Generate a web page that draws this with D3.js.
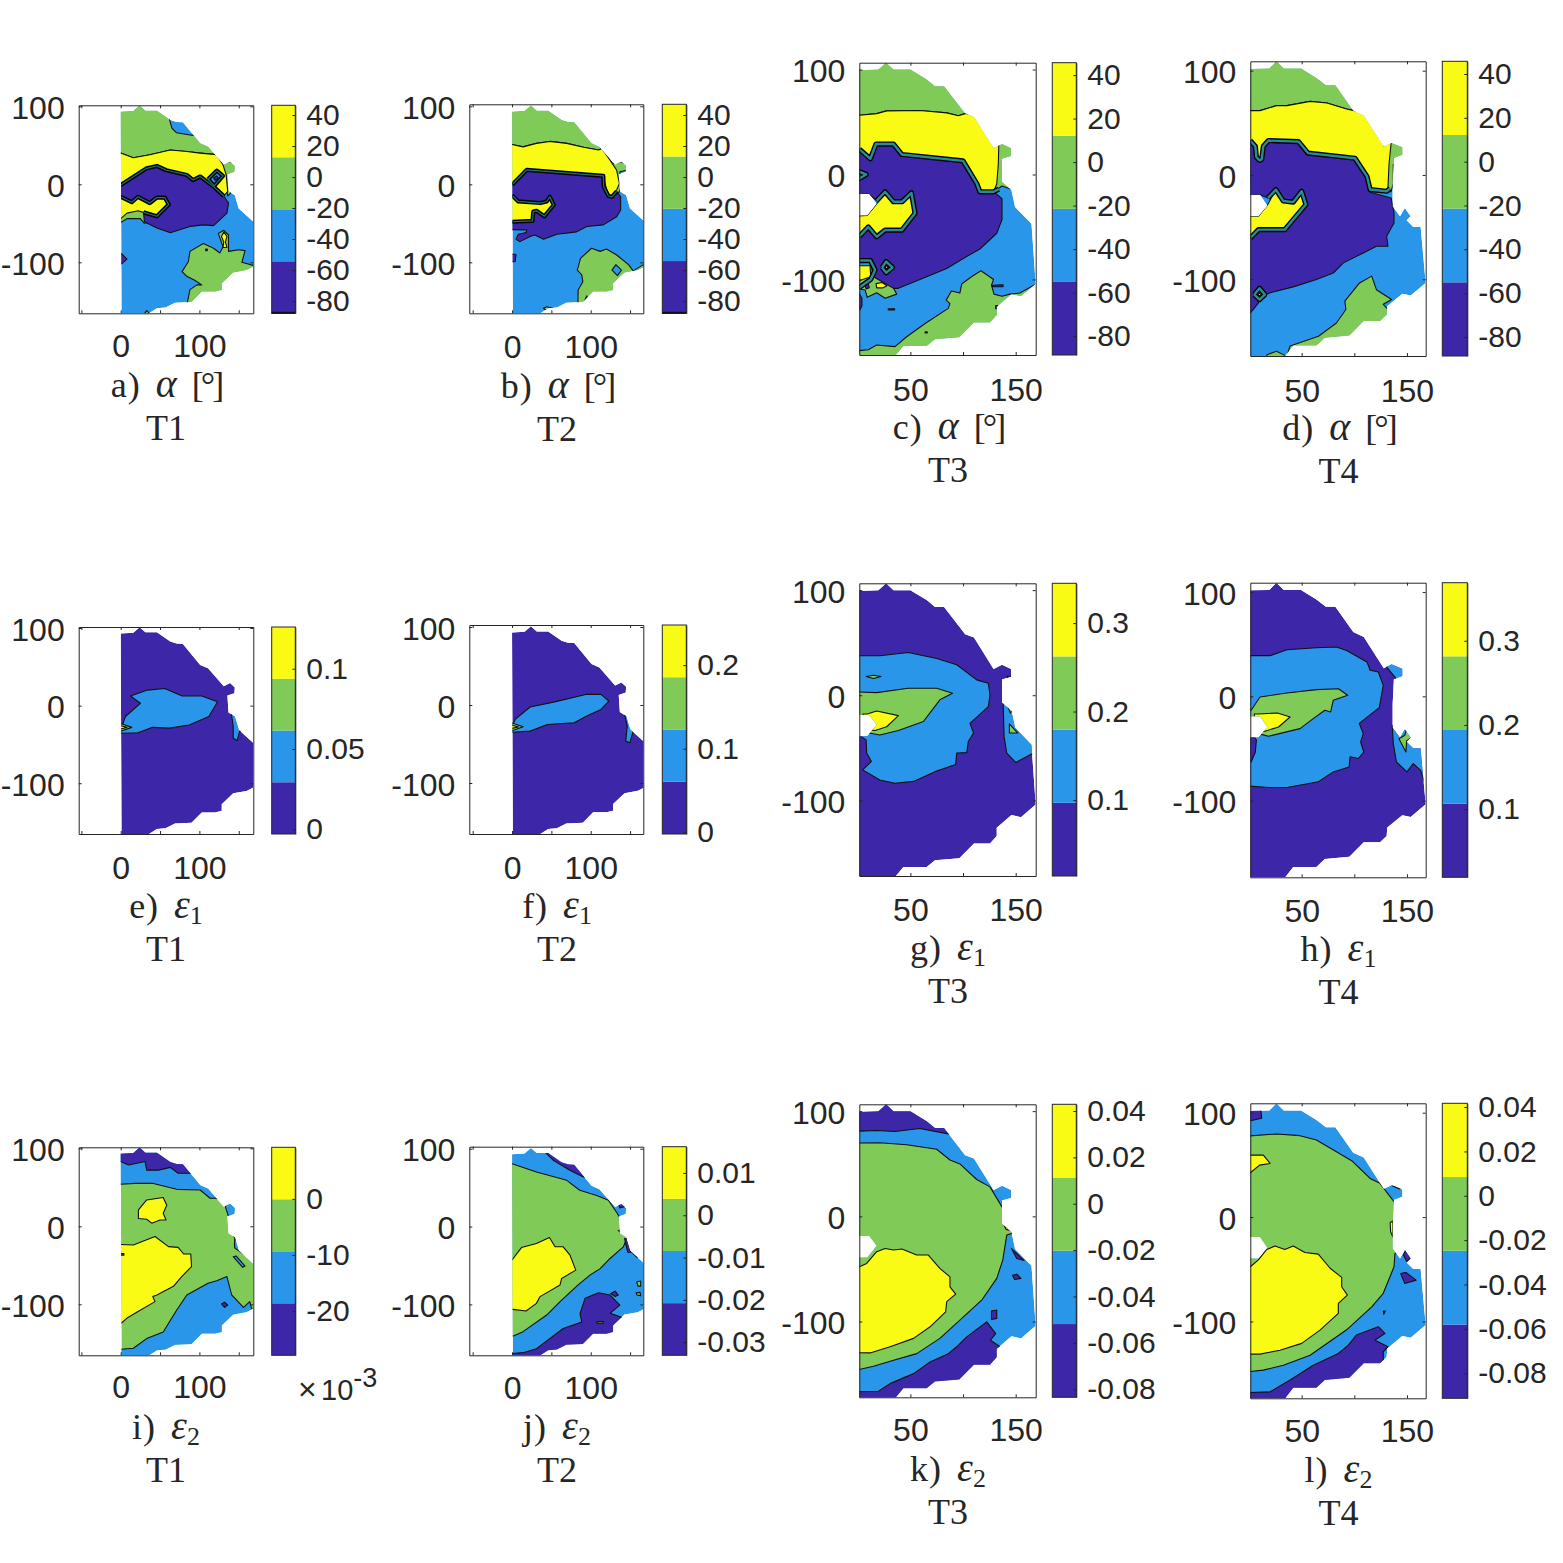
<!DOCTYPE html>
<html>
<head>
<meta charset="utf-8">
<script src="https://cdn.jsdelivr.net/npm/d3@7"></script>
<style>
  html, body { margin: 0; padding: 0; background: #fff; }
  .tick text { font-family: "Liberation Sans", Arial, sans-serif; fill: #262626; }
  .caption { font-family: "Liberation Serif", serif; fill: #262626; font-size: 36px; }
</style>
</head>
<body>
<div id="chart"></div>
<script>
// contour bands, low to high
const bandColors = ['#3e26a8', '#2a96ea', '#80cb58', '#f9fb15'];

// measured area outlines, [x, y] in degrees
const outlineT12 = [[0,93],[16,94],[24,101],[31.4,94.4],[46,94.4],[63,82.5],[71,80],[79,79.5],[101,52.5],[111,48],[131,25],[139,29],[145,23.5],[144.5,16],[135.6,13],[137,-9],[145,-14],[150,-31],[168.6,-48],[168.6,-105.5],[160,-110],[143,-113],[128.4,-127],[128.4,-135.5],[120,-137.6],[103,-137.6],[90,-151],[69,-152],[57,-158],[46,-159],[35,-166],[1,-166]];
const outlineT3 = [[-5,99],[19.6,100],[27,106.5],[34,100],[50,100],[65.5,90.5],[73.4,84],[82,84],[102,58],[110.4,55],[129,25],[137,29],[145.6,25],[145.6,17.5],[137,15],[137,-7],[146,-15],[149.4,-31],[165,-47],[169,-104],[155,-116],[146,-114],[132,-126],[132,-134],[125.6,-141],[110.4,-141],[96.5,-155],[73.4,-157],[65.5,-163.5],[43.4,-163.5],[35.4,-173],[-5,-173]];
const holeT3 = [[-5,-18.7],[11,-18.7],[18,-28],[9,-39],[-5,-39]];
const outlineT4 = [[-5,101.6],[19.3,102],[26,109],[33,102],[49.4,102],[64,93],[73,86],[82,86],[99,61.7],[109,57],[128,27],[135.4,30.7],[145.6,26.5],[145.6,19.5],[137.6,16.3],[136.4,-7.7],[136.4,-30],[143.4,-39.6],[148,-31.6],[153.5,-39.6],[149.7,-43.5],[156,-49.8],[163,-49.8],[167.8,-103.5],[153.5,-115.7],[145.6,-114],[131.3,-125.9],[130.7,-134],[124.4,-140],[109,-140],[95.3,-154],[72,-156],[64,-163.6],[42,-163.6],[34,-174],[-5,-174]];
const holeT4 = [[-5,-19],[10.4,-19],[17.4,-29.4],[9,-39.6],[-5,-39.6]];

// each region is [band, points]; painted in order over the base band
const alphaT1 = [
  [2, [[-9,108],[58,108],[61,87],[65,72],[71,66],[90,63],[125,63],[122,38],[101,40],[84,42],[63,44],[37,38],[16,34],[0,40],[-9,40]]],
  [2, [[128,29],[152,29],[152,10],[139,-12],[136,-15],[135,-9],[134,12],[128,25]]],
  [2, [[-9,-49],[0,-49],[8,-44],[25,-44],[30,-50],[46,-45],[61,-20],[-9,-20]]],
  [2, [[78,-112],[86,-99],[88,-86],[105,-76],[118,-82],[126,-88],[130,-80],[124,-63],[131,-59],[137,-65],[137,-86],[150,-84],[158,-85],[154,-100],[172,-105],[172,-170],[85,-170],[85,-150],[88,-135],[97,-129],[103,-129],[94,-123],[84,-118]]],
  [3, [[-9,40],[0,40],[16,34],[37,38],[63,44],[84,42],[101,40],[122,38],[130,25],[134,12],[136,-9],[131,-15],[118,-3],[101,10],[92,5.5],[84,12],[58,18],[46,23.5],[33,20.5],[0,-1],[-9,-1]]],
  [3, [[-9,-16],[0,-16],[14,-23],[22,-16],[37,-24],[46,-17],[56,-17],[61,-26],[46,-41],[29,-36],[22,-34],[8,-37],[0,-44],[-9,-44]]],
  [0, [[-9,-1],[0,-1],[33,20.5],[46,23.5],[58,18],[84,12],[92,5.5],[101,10],[118,-3],[131,-15],[137,-24],[135,-37],[118,-53],[105,-52],[88,-54],[63,-62],[46,-56],[30,-48],[29,-36],[46,-41],[61,-26],[56,-17],[46,-17],[37,-24],[22,-16],[14,-23],[0,-16],[-9,-16]]],
  [0, [[-9,-88],[0,-88],[8,-96],[1,-102],[-9,-102]]],
  [1, [[111,6.5],[122,17.5],[130,10.7],[119,-2]]],
  [0, [[118,8],[122,11],[124,8],[120,5]]],
  [3, [[131,-61],[135,-67],[133,-74],[135,-81],[130,-81],[131,-74],[128,-67]]],
  [2, [[30,-166],[33,-162],[37,-166]]],
  [0, [[108,-83],[110,-83],[110,-85],[108,-85]]]
];
const alphaT1Steep = [
  [[0,-1],[33,20.5],[46,23.5],[58,18],[84,12],[92,5.5],[101,10],[118,-3],[131,-15]],
  [[0,-16],[14,-23],[22,-16],[37,-24],[46,-17],[56,-17],[61,-26],[46,-41],[29,-36]],
  [[111,6.5],[122,17.5],[130,10.7],[119,-2],[111,6.5]]
];

const alphaT2 = [
  [2, [[-9,108],[125,108],[125,44],[114,46],[110,44],[91,47.5],[69.5,52.5],[48,55],[31,52.5],[14,48],[0,51],[-9,51]]],
  [2, [[125,27],[133,27],[138,29],[147,25],[146,18],[137,16],[138,-5],[135,-12],[125,-12]]],
  [2, [[83.5,-170],[84,-135.5],[90,-125],[88.6,-116],[83,-110],[87,-95],[101,-82],[112,-86],[120,-83],[133,-90.6],[148,-103],[154,-111],[167,-103],[175,-110],[175,-170]]],
  [1, [[127,-110],[132,-103],[139,-110],[134,-117]]],
  [1, [[92,-150],[95,-143],[97,-150],[95,-155]]],
  [2, [[40,-159],[44,-157],[52,-159],[44,-162]]],
  [3, [[-9,51],[0,51],[14,48],[31,52.5],[48,55],[69.5,52.5],[91,47.5],[110,44],[114,46],[124.6,31],[133,18],[136.5,1],[133,-7],[127,-16],[122.5,-15],[116,9],[116,10.7],[18.6,18.4],[1.7,1],[-9,1]]],
  [3, [[-9,-14],[0,-14],[8,-22],[36,-24],[44,-22],[48,-16],[53,-26.5],[41,-41],[31,-34],[27,-35],[26,-47],[0,-48],[-9,-48]]],
  [0, [[-9,1],[1.7,1],[18.6,18.4],[116,10.7],[116.5,-3],[122.5,-15],[127,-16],[133,-9],[138,-16],[138,-33],[133,-41.5],[116,-52],[95,-54],[82,-61],[57,-64],[40,-70.5],[29,-65],[23,-67],[10,-73.5],[5,-70.5],[8,-64],[18,-62],[18.6,-58.5],[-9,-58],[-9,-48],[0,-48],[26,-47],[27,-35],[31,-34],[41,-41],[53,-26.5],[48,-16],[44,-22],[36,-24],[8,-22],[0,-14],[-9,-14]]],
  [0, [[-9,-88],[5,-90],[4,-99],[-9,-101]]]
];
const alphaT2Steep = [
  [[0,0],[1.7,1],[18.6,18.4],[116,10.7],[116.5,-3],[122.5,-15],[127,-16],[133,-9]],
  [[0,-14],[8,-22],[36,-24],[44,-22],[48,-16],[53,-26.5],[41,-41],[31,-34],[27,-35],[26,-47],[0,-48]]
];

const alphaT3 = [
  [2, [[-10,115],[110,115],[110,58],[102,58],[95.6,56],[84.5,58.7],[59,61],[27.5,60.6],[18,58],[1.6,56.5],[-10,56.5]]],
  [2, [[128,40],[150,40],[150,8],[140,8],[140,-3],[146,-14],[137,-11],[131,-15]]],
  [2, [[-10,-169],[10,-167],[18,-162.5],[35.4,-164],[46.5,-154.6],[64,-142],[86,-127.6],[87.6,-123],[84,-119.7],[89,-111],[97,-113],[98.7,-104.4],[108,-97.5],[117,-91.7],[129,-100],[127,-105.4],[129.4,-114],[137,-116],[144.6,-114],[154,-113],[172,-103],[180,-180],[-10,-180]]],
  [3, [[-10,56.5],[1.6,56.5],[18,58],[27.5,60.6],[59,61],[84.5,58.7],[95.6,56],[102,58],[115,58],[134,30],[133.5,10],[132,-9],[129,-16.5],[116,-16.5],[113,-8.6],[100,13],[42,19],[34,29],[17.4,29],[12,15],[1.6,24],[-10,24]]],
  [3, [[-10,-40],[9,-39],[18,-28],[21,-24],[26,-16.5],[34,-26],[42,-26],[51,-17.5],[54.4,-37],[42,-53],[26,-53],[18,-59.4],[10,-50],[1.6,-59],[-10,-59]]],
  [0, [[-10,24],[1.6,24],[12,15],[17.4,29],[34,29],[42,19],[100,13],[113,-8.6],[116,-16.5],[129,-16.5],[137,-23],[137,-43],[132,-56],[116,-71],[103,-78.4],[84.5,-89.5],[65.5,-97.5],[38.6,-108.5],[33,-108.5],[15,-97.5],[12,-82],[-10,-82],[-10,-59],[1.6,-59],[10,-50],[18,-59.4],[26,-53],[42,-53],[54.4,-37],[51,-17.5],[42,-26],[34,-26],[26,-16.5],[18,-25],[11,-19],[-10,-19]]],
  [2, [[15,-97.5],[34,-108.5],[37,-114],[26,-118],[18,-112.7],[9,-117],[7,-110],[-5,-108],[-5,-95]]],
  [3, [[-10,-87],[11.7,-87],[12.3,-97.5],[-10,-105]]],
  [3, [[17.4,-104],[23,-103],[27.8,-106],[24,-108],[18,-108]]],
  [0, [[7,-106],[10,-104],[11,-108],[8,-109]]],
  [2, [[23,-88.6],[27,-83],[33,-88.6],[27,-93.6]]],
  [3, [[26,-88],[27,-87],[29,-88.6],[27,-90]]],
  [2, [[-5,4],[8,0],[1,-5]]],
  [0, [[-10,-112.7],[1,-112.7],[4,-118],[4,-125],[2,-129],[-10,-129]]],
  [0, [[128,-105.5],[138,-105],[138,-107],[128,-107]]],
  [0, [[29,-128],[35,-128],[35,-129],[29,-129]]],
  [0, [[131,-125],[133,-125],[133,-128],[131,-128]]],
  [0, [[64,-150],[66,-150],[66,-151],[64,-151]]]
];
const alphaT3Steep = [
  [[1.6,24],[12,15],[17.4,29],[34,29],[42,19],[100,13],[113,-8.6],[116,-16.5],[129,-16.5],[134,-14]],
  [[18,-25],[26,-16.5],[34,-26],[42,-26],[51,-17.5],[54.4,-37],[42,-53],[26,-53],[18,-59.4],[10,-50],[1.6,-59]],
  [[1.6,-82],[12,-82],[16.5,-91],[12.3,-100],[1.6,-107.6]],
  [[23,-88.6],[27,-83],[33,-88.6],[27,-93.6],[23,-88.6]],
  [[-2,4],[8,0],[-2,-6]]
];

const alphaT4 = [
  [2, [[-10,120],[112,120],[112,61.7],[100,61.7],[92.7,63.3],[74,69],[58,70.6],[36,66.5],[26,66.5],[10.4,61.7],[-10,61.7]]],
  [2, [[128,40],[150,40],[150,10],[137,10],[137,-8],[135,-16],[128,-16]]],
  [2, [[34,-180],[39,-164],[66,-154.6],[83,-141.9],[92,-129],[91,-121],[105,-103.5],[116.5,-97],[121,-110],[135.4,-119.5],[127.5,-124],[131,-128],[140,-130],[140,-180]]],
  [2, [[16,-180],[17,-172.5],[26,-169],[34,-173],[36,-180]]],
  [3, [[-10,61.7],[10.4,61.7],[26,66.5],[36,66.5],[58,70.6],[74,69],[92.7,63.3],[100,61.7],[115,61],[135,31],[133,11],[132,-11],[130.7,-15.6],[115,-14],[112,-1.3],[100.6,16],[56,21],[47,32],[18.4,33],[13.6,27.5],[12,15],[10,14],[7,17],[6,27.5],[1,33],[-10,33]]],
  [3, [[-10,-39.6],[9,-39.6],[17.4,-29],[25.6,-14],[32.6,-25],[42,-26],[50,-15.6],[54,-28.4],[34,-52.4],[9,-52.4],[1.3,-60.4],[-10,-60.4]]],
  [0, [[-10,33],[1,33],[6,27.5],[7,17],[10,14],[12,15],[13.6,27.5],[18.4,33],[47,32],[56,21],[100.6,16],[112,-1.3],[115,-14],[115,-16.6],[135,-22],[137.7,-36.4],[137.7,-46],[130.7,-58.8],[132,-68.4],[121,-68.4],[108.5,-74.8],[89.6,-84.3],[80,-94],[64,-100.3],[42,-107.3],[20,-113],[9,-118],[9,-122.7],[1.3,-132.3],[-10,-132.3],[-10,-60.4],[1.3,-60.4],[9,-52.4],[34,-52.4],[54,-28.4],[50,-15.6],[42,-26],[32.6,-25],[25.6,-14],[18,-22],[10.4,-19],[-10,-19]]],
  [2, [[5,-114.7],[10,-108.6],[15,-114.7],[10,-119.5]]],
  [3, [[8.5,-114.7],[10,-113],[11.5,-114.7],[10,-116]]]
];
const alphaT4Steep = [
  [[1,33],[6,27.5],[7,17],[10,14],[12,15],[13.6,27.5],[18.4,33],[47,32],[56,21],[100.6,16],[112,-1.3],[115,-14],[130.7,-15.6],[134,-13]],
  [[18,-22],[25.6,-14],[32.6,-25],[42,-26],[50,-15.6],[54,-28.4],[34,-52.4],[9,-52.4],[1.3,-60.4]],
  [[5,-114.7],[10,-108.6],[15,-114.7],[10,-119.5],[5,-114.7]]
];

const eps1Tip = [
  [2, [[-5,-23],[0,-23],[14,-28],[0,-33],[-5,-33]]],
  [3, [[-5,-26],[0,-26],[8,-28],[0,-30],[-5,-30]]]
];
const eps1T1 = [
  [1, [[-5,-36],[0,-35.6],[22,-35],[40.5,-28],[62,-29],[87,-25],[112,-14],[123,5],[103,12.4],[78,12.4],[56,22],[34,20],[12.5,12.4],[25,3],[6,-14],[0,-31],[-5,-31]]],
  [1, [[140,-5.6],[170,-5.6],[170,-32],[157,-32],[151,-33.5],[148,-45],[143,-42],[143,-27]]],
  ...eps1Tip
];
const eps1T2 = [
  [1, [[-5,-35],[0,-35],[23,-33.5],[45,-25],[79,-22.7],[95,-14],[113,-5.6],[123,5],[113,13.7],[95,13.7],[54,4],[23,-2.6],[4,-18.5],[0,-27],[-5,-27]]],
  [1, [[141,-3],[170,-3],[170,-31],[158,-31],[154,-33.5],[149.5,-48.5],[144.5,-46],[146.4,-27]]],
  ...eps1Tip
];
const eps1T3 = [
  [1, [[-10,37.5],[21,37.5],[48,40.6],[75,35],[94,29],[113,14.6],[124,11.4],[125.6,0.3],[124,-10.8],[106.6,-26.7],[110,-36],[105,-44],[103.5,-54.6],[94,-55],[93,-66],[73.4,-72.7],[53,-82],[35.4,-83.8],[21,-80.6],[4.7,-71],[13,-63],[8.5,-55],[8,-42.5],[2,-38.4],[-10,-38.4]]],
  [2, [[-10,3.5],[18,2.5],[48,6.7],[75,6.7],[90,1.9],[78,-4.4],[62.4,-25],[38.6,-33.6],[21,-37.8],[11,-36],[-10,-36]]],
  [3, [[5,-17.8],[9,-17.8],[18,-15],[38.6,-19.4],[27.5,-30],[16.5,-33.6],[10,-33],[5,-30]]],
  [2, [[8,17.8],[15,19],[22,17.8],[15,16]]],
  [1, [[138,-4],[170,-4],[170,-56],[165,-56],[150,-64],[141.5,-55],[139,-39.4]]],
  [2, [[141.5,-6],[146.6,-14],[145,-17],[142.5,-10.8]]],
  [2, [[144,-27.3],[152,-36],[144,-36]]],
  [1, [[142,18],[146,18],[145,14],[143,15]]]
];
const eps1T4 = [
  [1, [[-10,39],[20,39],[36,44.7],[64,46.6],[83,47.3],[92.7,44],[112,33],[115,25],[122.8,23.3],[127.5,10.5],[123.7,-10.9],[104.7,-26],[108.5,-35.8],[106,-43.8],[109,-53.4],[103.8,-59.7],[96,-58],[95,-67.7],[80,-72.5],[66,-82],[36,-87.5],[18.4,-87.5],[-10,-85.3]]],
  [0, [[-10,-39],[5,-39],[7,-42],[6,-53.4],[2,-63],[-10,-63]]],
  [2, [[-10,-19],[2,-13.4],[10.4,-0.6],[36,3.2],[64,6.4],[85,7.3],[93.7,1],[80,-3.8],[77.5,-15],[72,-13.4],[61,-21.4],[48.4,-31],[18.4,-38.3],[10,-36],[-10,-36]]],
  [3, [[5,-17],[9,-17],[27,-16],[39,-19.8],[28,-29.4],[15,-33.5],[9,-33],[5,-30]]],
  [1, [[130.7,28],[132,40],[150,40],[150,10],[140,15],[138.6,18.5]]],
  [1, [[136,-28],[175,-28],[175,-83.7],[167,-83.7],[163,-71],[156,-64.5],[150,-72.5],[140,-63],[137,-45]]],
  [2, [[142.4,-40.6],[148,-37.4],[150,-30],[155,-39],[149.7,-42.8],[149,-53.4]]]
];

const eps2T1 = [
  [1, [[-9,110],[130,110],[130,33.8],[120,36],[113.6,36],[101,46.6],[71,47.4],[41.5,55],[18,55],[0,54],[-9,54]]],
  [0, [[-9,110],[90,110],[90,68],[73,68],[63,75.6],[48,72],[33,72],[31,83],[10,78.6],[0,83],[-9,83]]],
  [1, [[133,26],[137,35],[150,35],[150,10],[137,12.4],[134,22]]],
  [3, [[22.5,10],[22.5,21],[33,33.8],[54,37],[58.5,27],[54,16.7],[57.6,8],[50,8],[39.4,4],[33,9]]],
  [3, [[-9,-23],[16,-24],[43.6,-13],[60.6,-26],[73,-27],[80,-35.5],[89,-35.5],[90,-51.7],[77.5,-64.5],[67,-77],[46,-88],[40.7,-90],[43.6,-96.6],[22.5,-109],[7.6,-118],[1,-124],[-9,-124]]],
  [1, [[-9,-158.5],[16,-156.4],[33,-144],[54,-135.5],[71,-107.7],[84,-88],[111,-73],[122,-69.7],[135,-64.5],[141,-88],[156,-104],[164,-96.6],[166.5,-106],[175,-106],[175,-180],[-9,-180]]],
  [0, [[128,-99.6],[132,-97.4],[136,-101],[132,-104]]],
  [1, [[144.5,-24],[145,-28],[160,-38],[165,-36],[160,-15],[145,-15]]],
  [1, [[143,-39],[146.6,-38],[158,-51],[155,-52.6]]],
  [3, [[140,-9],[143,-11],[146,-17.5],[150,-10]]],
  [1, [[-9,-35],[4,-35],[4,-37],[-9,-37]]]
];
const eps2T2 = [
  [2, [[-9,80.8],[0,80.8],[31,70],[69.5,59.4],[86,46.6],[107.6,40],[122.5,33.8],[133,18],[137,11.5],[150,5],[150,-5],[141.5,-26],[137,-30],[124.6,-41],[112,-54],[99,-62.4],[84,-75],[63,-94.4],[44,-113.7],[14,-135],[1.7,-140.6],[-9,-140.6]]],
  [3, [[-9,-43],[0,-43],[12,-27],[31,-21.8],[47.5,-14],[54.7,-26],[65,-26],[73.7,-36.8],[81,-56],[63,-66.7],[61,-75],[35.6,-90],[31,-98.7],[17.8,-108.5],[1,-106.4],[-9,-106.4]]],
  [0, [[-9,-163.7],[14,-162],[31,-157],[65,-131],[88.6,-122.6],[86.4,-112],[92.8,-92],[110,-85],[124.6,-88],[137,-100.9],[124.6,-111.5],[139.4,-116.7],[145,-120],[140,-180],[-9,-180]]],
  [0, [[40,110],[40.7,97],[52.5,85],[74,72],[90.7,63.7],[100,63],[100,110]]],
  [0, [[125.4,-86],[131,-83],[135,-88],[131,-90]]],
  [2, [[158.5,-71],[163.5,-70],[163.5,-76.5],[160,-76.5]]],
  [2, [[157.6,-85],[162.7,-84.6],[163.5,-89],[159,-88]]],
  [0, [[133,35],[150,35],[145,26],[137,24]]],
  [3, [[135,-5],[142,-4],[146.6,-14],[139.4,-9]]],
  [0, [[143,-15.4],[146,-16],[151,-33],[147,-33]]],
  [0, [[150,-31],[159,-36],[159,-40]]],
  [2, [[108,-122],[116,-122],[116,-124],[108,-124]]]
];
const eps2T3 = [
  [0, [[-10,120],[100,120],[100,78.4],[86,78.4],[59,83.5],[35.4,80.6],[18,81.6],[-10,80.6]]],
  [2, [[-10,69.5],[21,70],[46.5,68],[75,63.8],[87.6,53.6],[97,49.8],[113,35],[125.6,28],[137,9],[150,5],[150,-15],[141.5,-17.8],[137.7,-41.6],[132,-59],[117.7,-79.7],[97,-98.7],[78,-116],[56,-130.5],[34,-136.8],[15,-142.5],[-10,-148]]],
  [3, [[-10,-48],[1.6,-48],[8.5,-44.8],[18,-33.6],[26,-30.5],[34,-32],[42,-31],[56,-36.8],[67,-36.8],[78,-49.5],[87.6,-57.5],[87.6,-67],[93,-74],[84.5,-81],[83.5,-90.8],[68.7,-105],[53,-116],[30.7,-124],[11.7,-129.8],[-10,-129.5]]],
  [0, [[-10,-167],[19.6,-166.3],[30.7,-159],[53,-149.5],[68.7,-138.4],[86,-130.5],[94,-124],[103.5,-114.6],[122.5,-100.3],[131,-111.4],[126,-117.8],[134.5,-123.5],[140,-180],[-10,-180]]],
  [0, [[147,-56],[151,-55],[155,-59],[149,-60]]],
  [0, [[127,-90],[132,-89],[132,-97],[127,-98]]],
  [3, [[139,-9],[146,-13.6],[141,-12.4]]],
  [0, [[146,-30.5],[158,-42],[151,-40]]]
];
const eps2T4 = [
  [0, [[-10,112],[10.4,112],[12,94.6],[1.3,92.3],[-10,92.3]]],
  [2, [[-10,77],[26,79.6],[48.4,78],[64,73.8],[83,62.6],[97.5,54],[115,37],[124.4,32.3],[137.7,14.7],[150,5],[150,-30],[138.6,-34.8],[137.7,-47.6],[127.5,-73],[116.5,-86],[92.7,-108],[58,-132.3],[32.6,-141.9],[13.6,-146.6],[-10,-149]]],
  [3, [[-10,59.4],[13.6,59.4],[20,51.4],[10,49.8],[1.3,42.5],[-10,42.5]]],
  [3, [[-10,-47.6],[1.3,-47.6],[8.9,-41],[16.8,-31],[24.7,-27.8],[34,-31],[42,-27.8],[53,-33.9],[65.8,-35.5],[77,-49],[88,-57.8],[88,-66.8],[93.4,-74.8],[84.8,-82.7],[84.8,-92.3],[67.4,-108.3],[50,-121],[29.4,-127.5],[10.4,-131.3],[-10,-131.3]]],
  [0, [[-10,-168.4],[20,-167.4],[39,-156],[61,-141.9],[84.8,-130.7],[94.3,-122.7],[102,-113],[122.8,-105],[129,-111.5],[119.6,-117.9],[132,-124.3],[127.5,-129],[127.5,-140],[125,-180],[-10,-180]]],
  [0, [[144,-54],[149,-53],[158.7,-60.4],[148,-63.6]]],
  [0, [[146.5,-36.4],[149,-31.6],[153.5,-39.6],[150,-42.8]]],
  [0, [[127.5,-90],[129.5,-90],[128,-93]]],
  [0, [[136,30],[145,28.4],[143,27]]],
  [3, [[134,-5.4],[136.5,-3.8],[136.5,-19],[134.5,-14]]]
];

// colour limits and colorbar ticks
const limsAlpha = [[-87.9,46.3],[-87.9,46.9],[-88.7,45.7],[-88.7,45.8]];
const ticksAlpha = [40,20,0,-20,-40,-60,-80];
const limsEps1 = [[-0.003,0.126],[-0.002,0.248],[0.014,0.345],[0.019,0.369]];
const ticksEps1 = [[0.1,0.05,0],[0.2,0.1,0],[0.3,0.2,0.1],[0.3,0.2,0.1]];
const limsEps2 = [[-27.9,9.2],[-0.0331,0.0162],[-0.0835,0.0429],[-0.0913,0.0417]];
const ticksEps2 = [[0,-10,-20],[0.01,0,-0.01,-0.02,-0.03],[0.04,0.02,0,-0.02,-0.04,-0.06,-0.08],[0.04,0.02,0,-0.02,-0.04,-0.06,-0.08]];

// per-column axis setup
const trials = [
  {name:'T1', xDom:[-53.4,168.5], yDom:[-165.4,101.3], xTicks:[-50,0,50,100,150], xLabels:[0,100], outline:[outlineT12], l:78.7, r:253.3, bl:271.7, br:295.3, cx:166},
  {name:'T2', xDom:[-54.3,166.8], yDom:[-165.4,102.6], xTicks:[-50,0,50,100,150], xLabels:[0,100], outline:[outlineT12], l:469.3, r:643.3, bl:662.3, br:686.3, cx:557},
  {name:'T3', xDom:[1.5,169], yDom:[-172,106.5], xTicks:[50,100,150], xLabels:[50,150], outline:[outlineT3,holeT3], l:859.3, r:1035.7, bl:1052.3, br:1076.3, cx:948},
  {name:'T4', xDom:[1.2,167.8], yDom:[-173.6,109], xTicks:[50,100,150], xLabels:[50,150], outline:[outlineT4,holeT4], l:1250.3, r:1425.7, bl:1442.3, br:1467.3, cx:1338.5}
];
const yTicks = [100,0,-100];

const panels = [
  {t:0, tag:'a)', sym:'α', unit:true, base:1, regions:alphaT1, steep:alphaT1Steep, lim:limsAlpha[0], ticks:ticksAlpha, top:105.3, bottom:313.3, tickY:21, capY:397, foot:true},
  {t:1, tag:'b)', sym:'α', unit:true, base:1, regions:alphaT2, steep:alphaT2Steep, lim:limsAlpha[1], ticks:ticksAlpha, top:104.3, bottom:313.3, tickY:22, capY:398, foot:true},
  {t:2, tag:'c)', sym:'α', unit:true, base:1, regions:alphaT3, steep:alphaT3Steep, lim:limsAlpha[2], ticks:ticksAlpha, top:62.7, bottom:355, tickY:23, capY:439},
  {t:3, tag:'d)', sym:'α', unit:true, base:1, regions:alphaT4, steep:alphaT4Steep, lim:limsAlpha[3], ticks:ticksAlpha, top:61.3, bottom:356, tickY:23, capY:440},
  {t:0, tag:'e)', sym:'ε', sub:'1', base:0, regions:eps1T1, steep:[], lim:limsEps1[0], ticks:ticksEps1[0], top:627, bottom:834, tickY:22, capY:918},
  {t:1, tag:'f)', sym:'ε', sub:'1', base:0, regions:eps1T2, steep:[], lim:limsEps1[1], ticks:ticksEps1[1], top:625, bottom:834, tickY:22, capY:918},
  {t:2, tag:'g)', sym:'ε', sub:'1', base:0, regions:eps1T3, steep:[], lim:limsEps1[2], ticks:ticksEps1[2], top:583.3, bottom:876, tickY:22, capY:960},
  {t:3, tag:'h)', sym:'ε', sub:'1', base:0, regions:eps1T4, steep:[], lim:limsEps1[3], ticks:ticksEps1[3], top:582.7, bottom:877.3, tickY:22, capY:961},
  {t:0, tag:'i)', sym:'ε', sub:'2', base:2, regions:eps2T1, steep:[], lim:limsEps2[0], ticks:ticksEps2[0], top:1147.3, bottom:1355.3, tickY:20, capY:1439},
  {t:1, tag:'j)', sym:'ε', sub:'2', base:1, regions:eps2T2, steep:[], lim:limsEps2[1], ticks:ticksEps2[1], top:1146.7, bottom:1355.3, tickY:21, capY:1439},
  {t:2, tag:'k)', sym:'ε', sub:'2', base:1, regions:eps2T3, steep:[], lim:limsEps2[2], ticks:ticksEps2[2], top:1104.3, bottom:1397.3, tickY:21, capY:1481},
  {t:3, tag:'l)', sym:'ε', sub:'2', base:1, regions:eps2T4, steep:[], lim:limsEps2[3], ticks:ticksEps2[3], top:1103.3, bottom:1398.3, tickY:21, capY:1482}
];

const svg = d3.select('#chart').append('svg')
  .attr('width', 1563).attr('height', 1563)
  .style('display', 'block');

panels.forEach(function(p, i) {
  const tr = trials[p.t];
  const x = d3.scaleLinear().domain(tr.xDom).range([tr.l, tr.r]);
  const y = d3.scaleLinear().domain(tr.yDom).range([p.bottom, p.top]);
  const line = d3.line().x(d => x(d[0])).y(d => y(d[1]));
  const closed = pts => line(pts) + 'Z';
  const band = d3.scaleOrdinal().domain([0,1,2,3]).range(bandColors);
  const outlinePath = tr.outline.map(closed).join('');

  const defs = svg.append('defs');
  defs.append('clipPath').attr('id', 'box' + i).append('rect')
    .attr('x', tr.l).attr('y', p.top).attr('width', tr.r - tr.l).attr('height', p.bottom - p.top);
  defs.append('clipPath').attr('id', 'shape' + i).append('path')
    .attr('d', outlinePath).attr('clip-rule', 'evenodd');

  // filled contours, clipped to the measured area
  const field = svg.append('g').attr('clip-path', 'url(#box' + i + ')')
    .append('g').attr('clip-path', 'url(#shape' + i + ')');
  field.append('path').attr('d', outlinePath).attr('fill-rule', 'evenodd').attr('fill', band(p.base));
  field.selectAll('.region').data(p.regions).enter().append('path')
    .attr('class', 'region')
    .attr('d', d => closed(d[1]))
    .attr('fill', d => band(d[0]))
    .attr('stroke', '#111')
    .attr('stroke-width', 1.1)
    .attr('stroke-linejoin', 'round');

  // bunched contour lines where the field jumps
  const big = p.t > 1;
  [['#050505', big ? 5.2 : 4.2], [big ? '#2a8c96' : '#1f6f78', big ? 2.4 : 1.2]].forEach(function(s) {
    field.selectAll(null).data(p.steep).enter().append('path')
      .attr('d', line)
      .attr('fill', 'none')
      .attr('stroke', s[0])
      .attr('stroke-width', s[1])
      .attr('stroke-linejoin', 'round');
  });

  // axes box, ticks point inward
  const labelX = d => tr.xLabels.includes(d) ? d : '';
  const addAxis = function(gen, tx, ty) {
    const g = svg.append('g').attr('transform', 'translate(' + tx + ',' + ty + ')').call(gen);
    g.selectAll('path, line').attr('stroke', '#262626').attr('stroke-width', 1);
    g.selectAll('text').style('font-size', '32px');
    return g;
  };
  addAxis(d3.axisBottom(x).tickValues(tr.xTicks).tickFormat(labelX).tickSize(-3).tickSizeOuter(0).tickPadding(p.tickY), 0, p.bottom);
  addAxis(d3.axisTop(x).tickValues(tr.xTicks).tickFormat('').tickSize(-3).tickSizeOuter(0), 0, p.top);
  addAxis(d3.axisLeft(y).tickValues(yTicks).tickFormat(d => String(d)).tickSize(-3).tickSizeOuter(0).tickPadding(14), tr.l, 0)
    .selectAll('text').attr('dy', '0.38em');
  addAxis(d3.axisRight(y).tickValues(yTicks).tickFormat('').tickSize(-3).tickSizeOuter(0), tr.r, 0);

  // colorbar with four equal bands
  const c = d3.scaleLinear().domain(p.lim).range([p.bottom, p.top]);
  const quant = d3.scaleQuantize().domain(p.lim).range([0,1,2,3]);
  svg.selectAll(null).data([0,1,2,3]).enter().append('rect')
    .attr('x', tr.bl)
    .attr('width', tr.br - tr.bl)
    .attr('y', d => c(quant.invertExtent(d)[1]))
    .attr('height', d => c(quant.invertExtent(d)[0]) - c(quant.invertExtent(d)[1]))
    .attr('fill', d => band(d));
  svg.append('rect')
    .attr('x', tr.bl).attr('y', p.top)
    .attr('width', tr.br - tr.bl).attr('height', p.bottom - p.top)
    .attr('fill', 'none').attr('stroke', '#262626');
  if (p.foot) {
    svg.append('line')
      .attr('x1', tr.bl).attr('x2', tr.br)
      .attr('y1', p.bottom - 0.5).attr('y2', p.bottom - 0.5)
      .attr('stroke', '#111').attr('stroke-width', 2);
  }
  const barAxis = addAxis(d3.axisRight(c).tickValues(p.ticks).tickFormat(d => String(d)).tickSize(-3).tickSizeOuter(0).tickPadding(11), tr.br, 0);
  barAxis.selectAll('text').style('font-size', '30px');

  // caption
  const cap = svg.append('text').attr('class', 'caption')
    .attr('x', tr.cx).attr('y', p.capY).attr('text-anchor', 'middle');
  cap.append('tspan').attr('letter-spacing', 1).text(p.tag + '\u00a0');
  cap.append('tspan').attr('dx', 5).attr('font-style', 'italic').attr('font-size', 40).text(p.sym);
  if (p.sub) {
    cap.append('tspan').attr('font-size', 26).attr('dy', 6).text(p.sub);
  }
  if (p.unit) {
    cap.append('tspan').text('\u00a0');
    cap.append('tspan').attr('dx', 6).attr('letter-spacing', -3).text('[°]');
  }
  svg.append('text').attr('class', 'caption')
    .attr('x', tr.cx).attr('y', p.capY + 43).attr('text-anchor', 'middle').text(tr.name);
});

// exponent under the first strain colorbar
const expo = svg.append('text')
  .attr('x', 298).attr('y', 1400)
  .style('font-family', '"Liberation Sans", Arial, sans-serif')
  .attr('fill', '#262626');
expo.append('tspan').style('font-size', '32px').text('×');
expo.append('tspan').attr('x', 321).style('font-size', '29px').text('10');
expo.append('tspan').attr('dy', -13).style('font-size', '27px').text('-3');
</script>
</body>
</html>
